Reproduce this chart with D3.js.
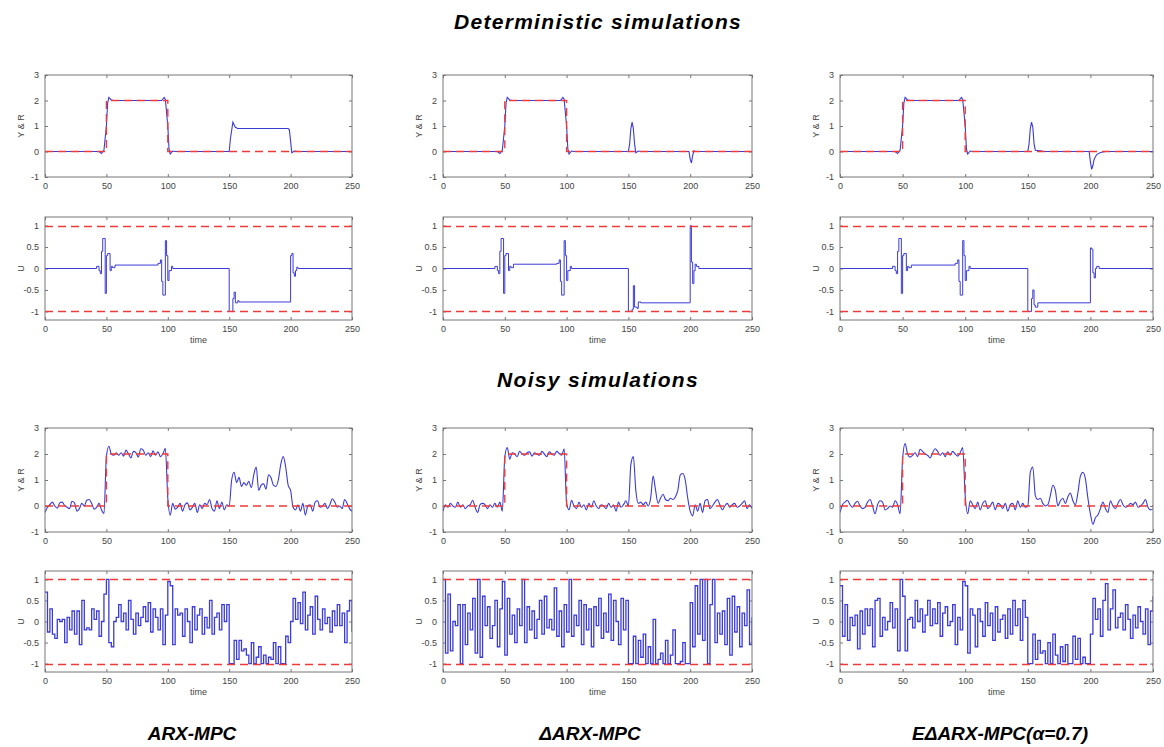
<!DOCTYPE html>
<html>
<head>
<meta charset="utf-8">
<script src="https://cdn.jsdelivr.net/npm/d3@7"></script>
<style>
  body { margin: 0; background: #fff; }
  svg { display: block; font-family: "Liberation Sans", Arial, sans-serif; }
  .tick text { fill: #444; font-size: 9px; }
  .frame { fill: none; stroke: #777; stroke-width: 1; }
</style>
</head>
<body>
<svg width="1164" height="747"></svg>
<script>
// ---- data ----
var xTicks = [0, 50, 100, 150, 200, 250];
var yrTicks = [-1, 0, 1, 2, 3];
var uTicks = [-1, -0.5, 0, 0.5, 1];
var methods = ["ARX-MPC", "\u0394ARX-MPC", "E\u0394ARX-MPC(\u03b1=0.7)"];
var sectionTitles = ["Deterministic simulations", "Noisy simulations"];

// reference signal R (step changes) and input limits
var refTimes = [0, 50, 100, 250];
var refValues = [0, 2, 0, 0];
var uLimits = [-1, 1];

// deterministic outputs Y, as [time, value]
var detY1 = [[0,0],[44,0],[46,-0.08],[48,0.05],[50,1.0],[51,1.9],[52,2.12],[54,2.02],[56,2.0],[95,2.0],[97,2.12],[98,2.05],[100,1.0],[101,0.1],[102,-0.1],[104,0.02],[106,0],[150,0],[151,0.5],[153,1.15],[155,0.95],[157,0.9],[198,0.9],[199,0.85],[201,-0.05],[203,0.02],[206,0],[250,0]];
var detY2 = [[0,0],[44,0],[46,-0.08],[48,0.05],[50,1.0],[51,1.9],[52,2.12],[54,2.02],[56,2.0],[95,2.0],[97,2.12],[98,2.05],[100,1.0],[101,0.1],[102,-0.1],[104,0.02],[106,0],[150,0],[151,0.3],[152,0.9],[153,1.15],[154,0.9],[155,0.3],[156,-0.05],[158,0.02],[160,0],[199,0],[200,-0.3],[201,-0.45],[202,-0.15],[203,0.02],[205,0],[250,0]];
var detY3 = [[0,0],[44,0],[46,-0.08],[48,0.05],[50,1.0],[51,1.9],[52,2.12],[54,2.02],[56,2.0],[95,2.0],[97,2.12],[98,2.05],[100,1.0],[101,0.1],[102,-0.1],[104,0.02],[106,0],[150,0],[151,0.3],[152,0.9],[153,1.15],[154,0.95],[155,0.3],[156,0.05],[160,0.03],[163,0],[199,0],[200,-0.4],[201,-0.7],[202,-0.55],[203,-0.3],[205,-0.12],[208,-0.04],[212,0],[250,0]];

// deterministic inputs U, as [time, value] held until the next change
var detU1 = [[0,0],[42,0.05],[44,-0.05],[45,-0.12],[46,0.4],[47,0.7],[49,-0.58],[50,0.3],[51,0.35],[53,-0.05],[54,0.05],[55,0.02],[57,0.08],[92,0.12],[94,0.2],[95,-0.3],[96,-0.62],[98,0.65],[99,0.3],[100,-0.28],[101,-0.05],[103,0.05],[104,0],[150,-1],[153,-0.7],[154,-0.55],[155,-0.8],[157,-0.75],[158,-0.78],[200,0.3],[201,0.35],[202,-0.1],[203,-0.18],[204,-0.05],[205,0.03],[206,0],[250,0]];
var detU2 = [[0,0],[42,0.05],[44,-0.05],[45,-0.12],[46,0.4],[47,0.7],[49,-0.58],[50,0.3],[51,0.35],[53,-0.05],[54,0.05],[55,0.02],[57,0.1],[92,0.12],[94,0.2],[95,-0.3],[96,-0.62],[98,0.65],[99,0.3],[100,-0.28],[101,-0.05],[103,0.05],[104,0],[150,-1],[153,-0.95],[154,-0.4],[155,-0.9],[157,-0.93],[158,-0.78],[160,-0.8],[200,1.0],[201,0.15],[202,-0.35],[203,-0.05],[204,0.1],[205,0.05],[207,0],[250,0]];
var detU3 = [[0,0],[42,0.05],[44,-0.05],[45,-0.12],[46,0.4],[47,0.7],[49,-0.58],[50,0.3],[51,0.35],[53,-0.05],[54,0.05],[55,0.02],[57,0.08],[92,0.12],[94,0.2],[95,-0.3],[96,-0.62],[98,0.65],[99,0.3],[100,-0.28],[101,-0.05],[103,0.05],[104,0],[150,-1],[153,-0.7],[154,-0.5],[155,-0.85],[156,-0.9],[158,-0.8],[200,0.48],[201,0.45],[202,-0.1],[203,-0.22],[204,0],[205,0.05],[207,0],[250,0]];

// noisy runs, one sample every 2 time units from t = 0 to 250
var sampleStep = 2;
var noisyY1 = [-0.25,-0.05,0.05,0.15,0.0,-0.08,0.12,0.15,0.02,-0.05,-0.1,0.18,0.12,-0.2,-0.1,0.1,0.0,0.22,0.25,0.1,-0.12,-0.05,0.1,-0.15,-0.3,
  1.9,2.3,2.0,1.95,2.05,1.95,2.05,1.92,2.15,2.0,1.85,2.1,2.05,1.88,2.2,2.15,1.95,2.05,1.9,2.12,1.95,2.08,1.9,2.0,2.22,
  0.3,-0.35,0.1,-0.12,-0.05,0.1,-0.2,0.05,0.12,-0.15,-0.05,0.1,-0.25,0.05,-0.1,0.1,0.05,0.25,-0.1,-0.2,0.2,-0.1,0.15,-0.15,0.05,
  0.0,1.0,1.3,0.9,1.1,0.75,0.9,0.8,0.95,0.7,1.2,1.5,0.6,0.8,0.85,0.65,1.2,1.1,0.8,0.75,1.0,1.6,1.9,1.5,0.8,
  0.6,-0.05,-0.15,0.05,-0.2,0.1,-0.35,0.0,0.05,-0.2,0.15,0.2,-0.05,0.0,0.1,-0.1,0.05,0.28,0.15,-0.05,0.0,-0.1,0.25,0.1,-0.1,-0.2];
var noisyY2 = [-0.2,0.05,-0.05,0.1,0.0,-0.05,0.15,-0.05,0.05,-0.1,0.0,0.05,0.22,-0.05,-0.25,0.05,0.1,0.05,-0.1,0.05,-0.05,0.1,-0.05,0.15,-0.2,
  1.9,2.25,1.8,2.05,2.0,1.9,2.1,2.0,1.95,2.05,2.08,1.92,2.05,2.0,1.95,2.1,2.0,1.9,2.08,2.0,1.95,2.1,2.02,1.95,2.2,
  0.1,-0.15,0.22,0.0,-0.1,0.15,-0.05,0.05,-0.15,0.1,-0.05,0.2,0.0,-0.1,0.05,0.0,-0.1,0.1,-0.05,0.05,-0.2,0.15,-0.05,0.05,0.2,
  0.0,1.6,1.9,0.6,0.1,0.15,0.05,0.15,0.0,0.3,1.15,0.6,0.1,0.3,0.45,0.25,0.2,0.3,0.25,0.35,0.6,1.2,1.25,1.0,0.3,
  -0.2,-0.38,0.05,-0.2,0.1,-0.25,0.2,0.25,-0.1,0.0,0.15,0.25,0.05,-0.15,0.0,0.1,-0.05,0.05,0.1,-0.05,0.0,0.1,0.2,-0.1,0.05,-0.1];
var noisyY3 = [-0.25,0.05,0.15,0.22,0.05,-0.05,0.1,0.18,0.0,-0.1,-0.05,0.15,0.25,0.0,-0.3,0.05,0.2,0.15,-0.15,-0.1,0.0,-0.05,0.2,0.05,-0.3,
  1.8,2.4,2.0,1.88,1.95,2.05,1.9,2.18,2.1,2.0,1.95,1.85,2.05,2.2,2.1,1.95,2.05,1.9,2.08,1.95,2.1,2.0,1.92,2.05,2.25,
  0.4,-0.3,0.2,0.05,-0.1,0.15,-0.15,0.1,0.2,-0.1,0.0,0.15,-0.15,0.1,0.05,-0.1,0.1,-0.2,0.05,0.1,-0.15,0.2,-0.05,0.1,-0.05,
  0.0,1.3,1.5,0.4,0.25,0.3,0.1,0.0,0.05,0.4,0.8,0.6,0.0,0.2,0.3,0.1,0.35,0.5,0.2,0.05,0.5,1.15,1.3,1.05,0.3,
  -0.3,-0.7,-0.45,-0.35,-0.1,0.15,-0.1,-0.25,0.2,0.0,-0.1,0.1,0.25,0.05,-0.05,0.0,0.1,0.05,0.15,-0.05,0.0,0.1,0.25,-0.05,-0.15,-0.1];

var noisyU1 = [0.7,-0.25,0.3,-0.3,-0.4,0.05,0.0,0.05,-0.5,0.1,-0.2,0.25,-0.3,0.25,-0.55,0.5,-0.2,-0.15,-0.2,0.3,0.05,0.25,-0.35,0.0,0.65,
  1.0,-0.5,-0.6,0.0,0.1,0.4,0.0,0.2,-0.2,0.5,0.05,-0.3,0.2,-0.1,0.1,0.35,0.0,0.45,-0.25,0.3,0.1,-0.2,0.3,-0.55,0.15,
  0.95,0.85,-0.55,0.3,0.15,0.2,-0.35,0.3,0.0,-0.5,0.35,-0.2,0.15,0.3,-0.3,0.1,-0.15,0.5,-0.3,0.1,0.2,-0.2,0.4,0.0,0.4,
  -1.0,-1.0,-0.45,-0.9,-0.45,-0.7,-0.65,-0.8,-1.0,-0.5,-1.0,-0.85,-0.6,-1.0,-0.8,-1.0,-0.85,-0.9,-0.5,-1.0,-0.6,-1.0,-1.0,-0.35,-0.5,
  0.0,0.55,0.05,0.45,-0.05,0.7,-0.2,0.15,0.35,-0.3,0.6,0.05,-0.2,0.3,-0.05,0.1,-0.25,0.25,-0.1,0.4,-0.1,0.2,-0.5,0.25,0.5,-0.25];
var noisyU2 = [1.0,-0.75,0.65,-0.7,0.0,-0.1,0.4,-1.0,0.4,-0.55,0.2,-0.2,0.55,-0.75,1.0,-0.85,0.6,-0.1,0.35,-0.4,-0.1,0.5,-0.6,0.3,0.95,
  -0.8,0.55,-0.3,0.15,-0.5,0.3,-0.1,1.0,-0.5,0.35,-0.2,0.25,-0.4,0.05,0.5,-0.3,0.6,-0.15,0.05,-0.2,0.8,-0.35,0.25,-0.6,0.4,
  -0.25,1.0,-0.35,0.15,-0.1,0.5,-0.55,0.4,-0.2,0.3,-0.6,0.35,-0.1,0.55,-0.4,0.2,-0.25,0.65,-0.45,0.5,0.0,-0.55,0.55,-0.2,0.5,
  -1.0,-1.0,-0.35,-1.0,-0.45,-0.85,-0.3,-1.0,-0.6,-1.0,0.05,-1.0,-0.9,-0.75,-1.0,-0.45,-1.0,-0.8,-0.2,-1.0,-1.0,-0.95,-0.5,-1.0,-1.0,
  0.45,-0.6,0.85,-0.3,1.0,-0.45,1.0,-1.0,0.4,1.0,-0.5,0.2,-0.3,0.25,-0.55,0.55,-0.8,0.6,-0.25,0.35,-0.6,0.2,-0.1,0.75,-0.55,0.1];
var noisyU3 = [0.85,-0.35,0.4,-0.45,0.1,-0.1,0.15,-0.65,0.25,-0.3,0.3,-0.1,0.3,-0.6,0.5,0.55,-0.35,0.1,-0.2,0.0,0.45,-0.15,0.3,-0.7,1.0,
  0.6,-0.7,0.05,0.1,-0.15,0.5,0.0,0.3,-0.25,0.15,0.5,-0.1,0.3,-0.05,0.45,-0.35,0.2,0.35,-0.1,0.0,0.4,-0.55,0.1,-0.2,0.95,
  0.85,-0.75,0.3,0.15,-0.6,0.3,0.0,-0.35,0.45,-0.1,0.2,-0.45,0.35,-0.25,0.05,0.15,-0.4,0.3,-0.3,0.5,-0.1,0.3,-0.45,0.5,0.1,
  -1.0,-1.0,-0.3,-0.9,-0.45,-0.75,-0.7,-1.0,-0.5,-1.0,-0.3,-0.8,-1.0,-0.6,-0.95,-0.55,-1.0,-1.0,-0.35,-0.9,-0.4,-1.0,-0.85,-1.0,-1.0,
  -0.3,0.55,0.05,0.3,-0.35,0.5,0.9,-0.2,0.3,0.75,-0.15,0.1,0.2,-0.2,0.4,0.05,-0.4,0.15,-0.15,0.35,0.0,-0.3,0.3,-0.55,0.25,0.6];

// ---- layout ----
var colX = [[45, 352], [443, 752], [840, 1153]];
var rowY = [[75, 177], [217, 320], [428, 532], [571, 672]];
var blue = "#3b3bd6";
var red = "#f03a3a";

var svg = d3.select("svg");

var toPairs = function(values) {
    return values.map(function(v, i) { return [i * sampleStep, v]; });
};

var drawPanel = function(col, row, kind, series, noisy) {
    var x = d3.scaleLinear().domain([0, 250]).range(colX[col]);
    var isU = kind === "U";
    var y = d3.scaleLinear().domain(isU ? [-1.2, 1.2] : [-1, 3]).range([rowY[row][1], rowY[row][0]]);
    var g = svg.append("g");
    var x0 = colX[col][0], x1 = colX[col][1], y0 = rowY[row][0], y1 = rowY[row][1];

    var clipId = "clip_" + col + "_" + row;
    g.append("clipPath").attr("id", clipId)
        .append("rect").attr("x", x0).attr("y", y0).attr("width", x1 - x0).attr("height", y1 - y0);

    // axes with inward ticks on all four sides
    var yt = isU ? uTicks : yrTicks;
    var tidy = function(a) { a.select(".domain").remove(); a.selectAll("line").attr("stroke", "#777"); };
    g.append("g").attr("transform", "translate(0," + y1 + ")")
        .call(d3.axisBottom(x).tickValues(xTicks).tickSizeInner(-3).tickSizeOuter(0).tickPadding(6)).call(tidy);
    g.append("g").attr("transform", "translate(0," + y0 + ")")
        .call(d3.axisTop(x).tickValues(xTicks).tickSizeInner(-3).tickSizeOuter(0).tickFormat("")).call(tidy);
    g.append("g").attr("transform", "translate(" + x0 + ",0)")
        .call(d3.axisLeft(y).tickValues(yt).tickSizeInner(-3).tickSizeOuter(0).tickPadding(6)
            .tickFormat(function(d) { return String(d); })).call(tidy);
    g.append("g").attr("transform", "translate(" + x1 + ",0)")
        .call(d3.axisRight(y).tickValues(yt).tickSizeInner(-3).tickSizeOuter(0).tickFormat("")).call(tidy);

    var plot = g.append("g").attr("clip-path", "url(#" + clipId + ")");

    if (isU) {
        var stairs = d3.line().curve(d3.curveStepAfter)
            .x(function(d) { return x(d[0]); }).y(function(d) { return y(d[1]); });
        plot.append("path").datum(series).attr("d", stairs)
            .attr("fill", "none").attr("stroke", blue).attr("stroke-width", noisy ? 1.3 : 1);
        plot.selectAll(".lim").data(uLimits).enter().append("line")
            .attr("x1", x(0)).attr("x2", x(250))
            .attr("y1", function(d) { return Math.round(y(d)) + 0.5; })
            .attr("y2", function(d) { return Math.round(y(d)) + 0.5; })
            .attr("stroke", red).attr("stroke-width", 1.5).attr("stroke-dasharray", "8,5");
    } else {
        var line = d3.line().curve(noisy ? d3.curveMonotoneX : d3.curveLinear)
            .x(function(d) { return x(d[0]); }).y(function(d) { return y(d[1]); });
        plot.append("path").datum(series).attr("d", line)
            .attr("fill", "none").attr("stroke", blue).attr("stroke-width", 1.1);
        var ref = refTimes.map(function(t, i) { return [t, refValues[i]]; });
        plot.append("path").datum(ref)
            .attr("d", d3.line().curve(d3.curveStepAfter).x(function(d) { return x(d[0]); }).y(function(d) { return y(d[1]); }))
            .attr("fill", "none").attr("stroke", red).attr("stroke-width", 1.4).attr("stroke-dasharray", "8,5");
    }

    g.append("rect").attr("class", "frame")
        .attr("x", x0).attr("y", y0).attr("width", x1 - x0).attr("height", y1 - y0);

    g.append("text")
        .attr("transform", "translate(" + (x0 - 21) + "," + ((y0 + y1) / 2) + ") rotate(-90)")
        .attr("text-anchor", "middle").attr("font-size", 9).attr("fill", "#444")
        .text(isU ? "U" : "Y & R");

    if (isU) {
        g.append("text").attr("x", (x0 + x1) / 2).attr("y", y1 + 23)
            .attr("text-anchor", "middle").attr("font-size", 9).attr("fill", "#444")
            .text("time");
    }
};

var detY = [detY1, detY2, detY3];
var detU = [detU1, detU2, detU3];
var noisyY = [noisyY1, noisyY2, noisyY3];
var noisyU = [noisyU1, noisyU2, noisyU3];

for (var c = 0; c < 3; c++) {
    drawPanel(c, 0, "Y", detY[c], false);
    drawPanel(c, 1, "U", detU[c], false);
    drawPanel(c, 2, "Y", toPairs(noisyY[c]), true);
    drawPanel(c, 3, "U", toPairs(noisyU[c]), true);
}

// section titles and method names
svg.selectAll(".section").data(sectionTitles).enter().append("text")
    .attr("x", 598).attr("y", function(d, i) { return i === 0 ? 29 : 387; })
    .attr("text-anchor", "middle").attr("font-size", 21).attr("letter-spacing", 1.3)
    .attr("font-weight", "bold").attr("font-style", "italic").attr("fill", "#000")
    .text(function(d) { return d; });

var methodX = [192, 590, 1000];
svg.selectAll(".method").data(methods).enter().append("text")
    .attr("x", function(d, i) { return methodX[i]; }).attr("y", 740)
    .attr("text-anchor", "middle").attr("font-size", 19)
    .attr("font-weight", "bold").attr("font-style", "italic").attr("fill", "#000")
    .text(function(d) { return d; });
</script>
</body>
</html>
